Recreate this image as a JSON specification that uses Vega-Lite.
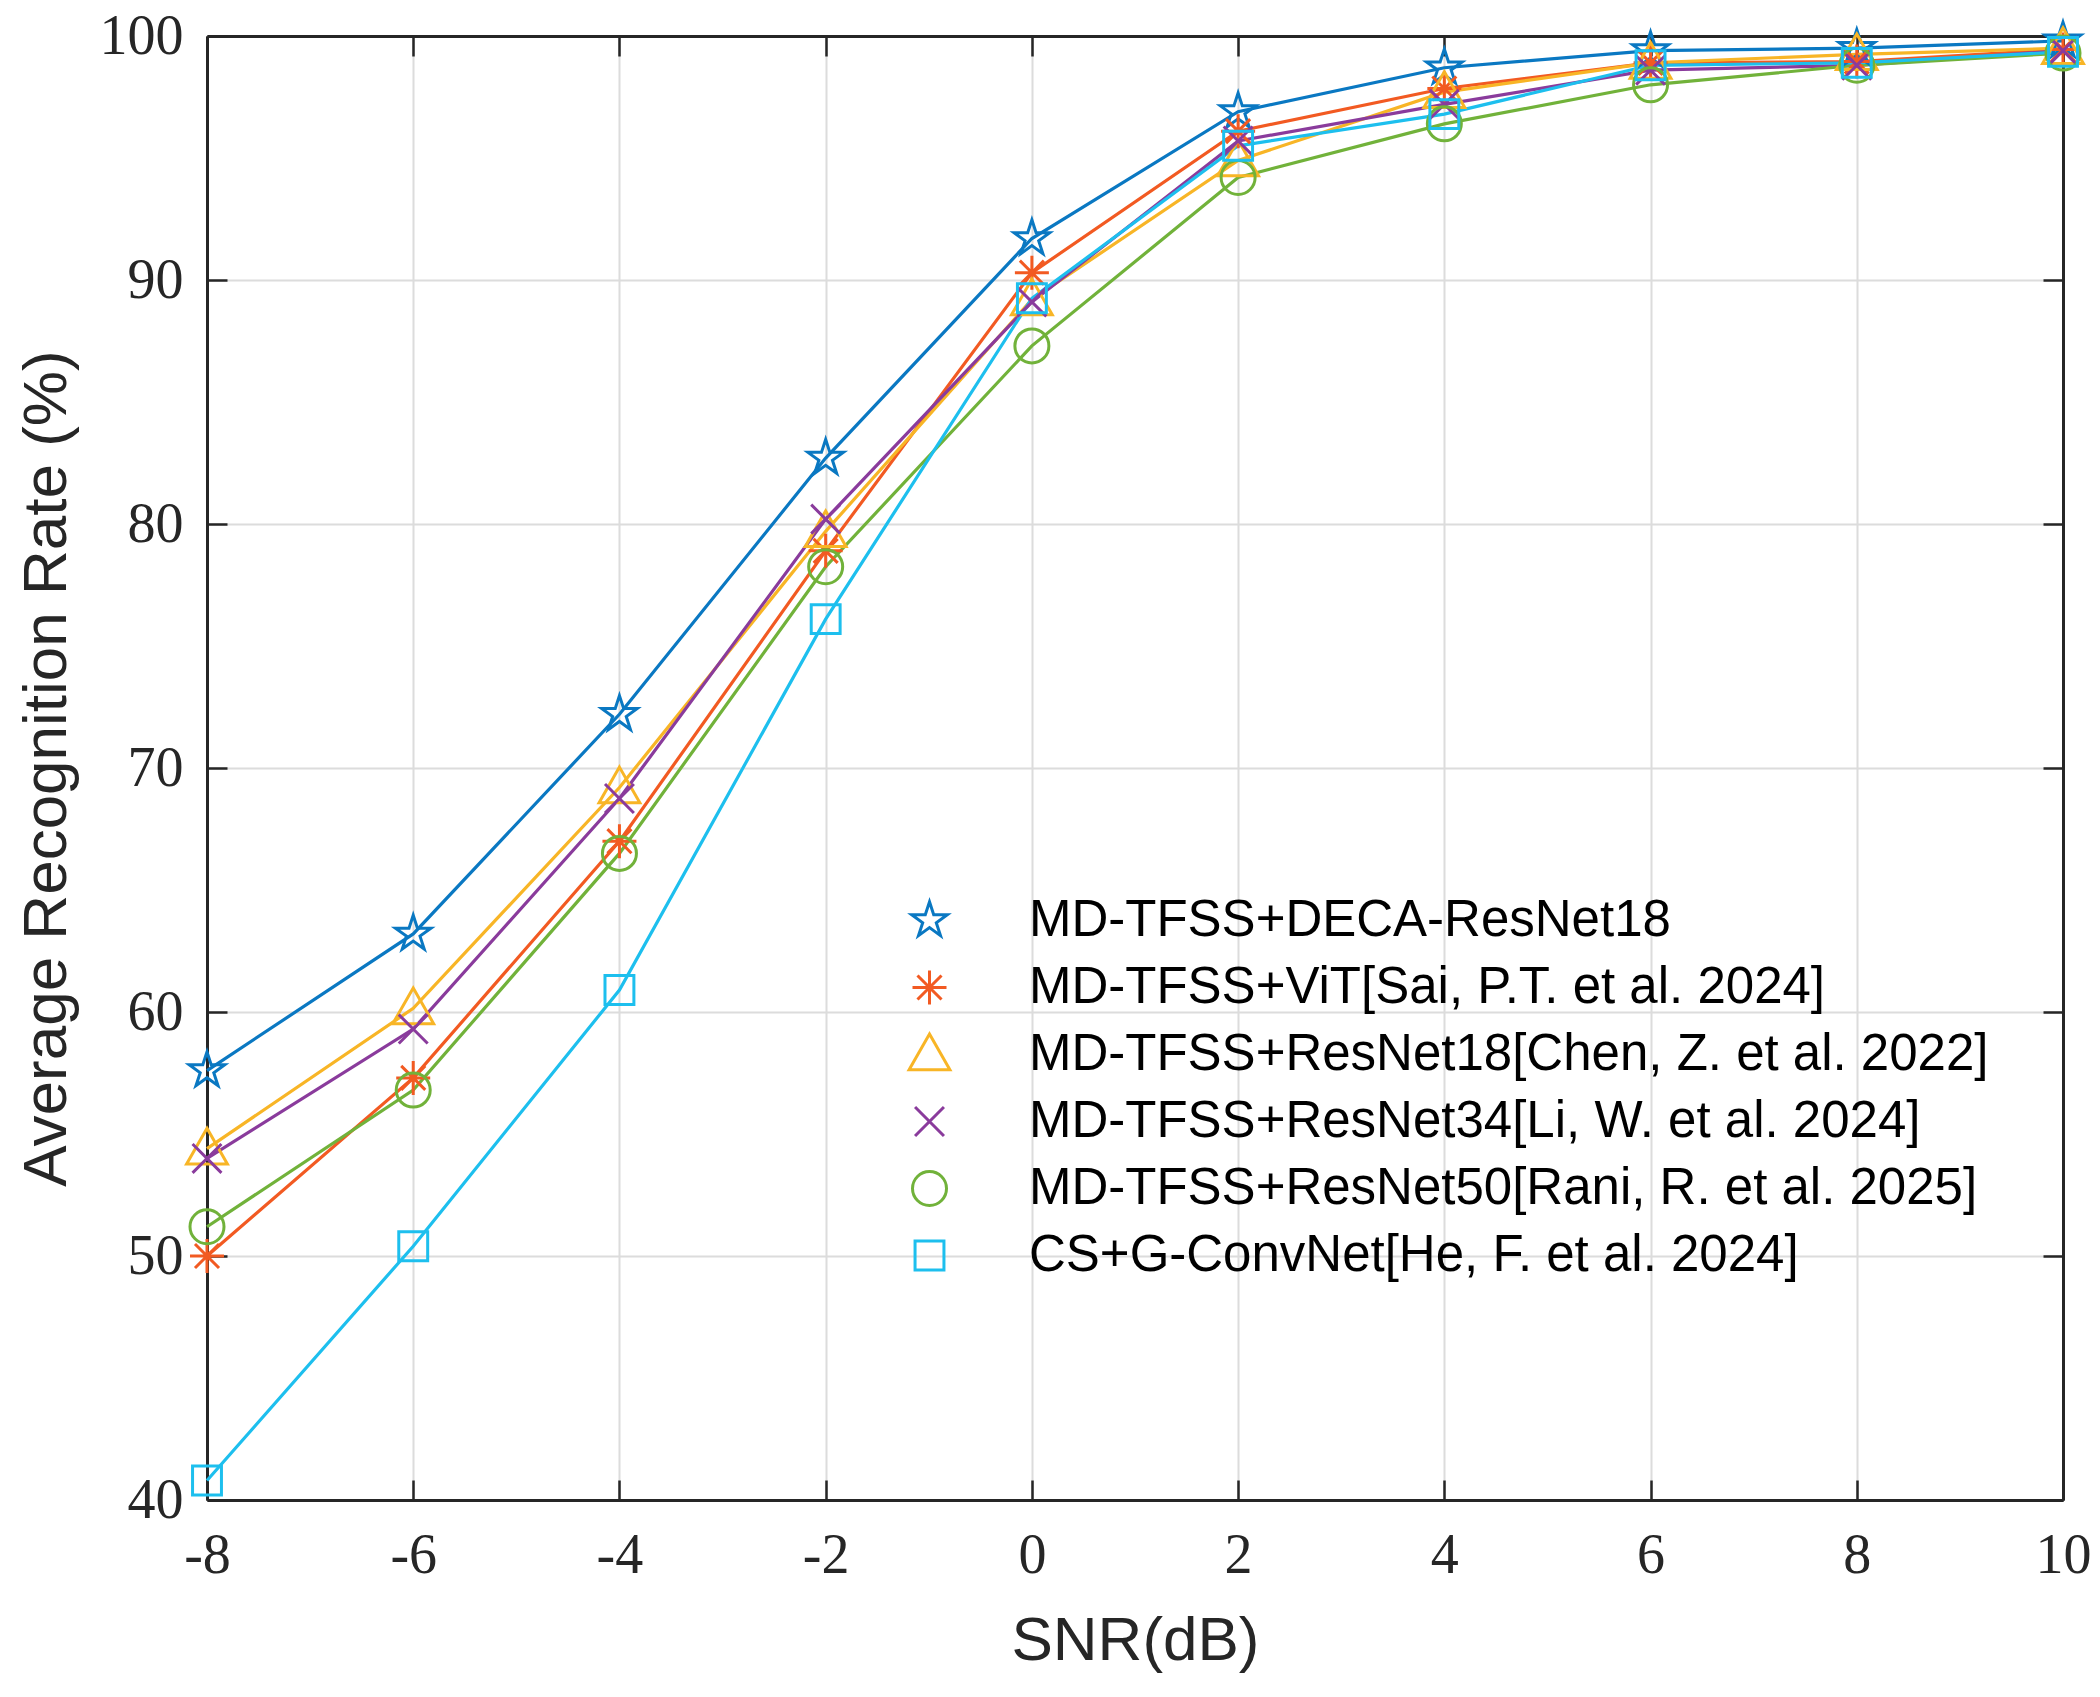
{
  "$schema": "https://vega.github.io/schema/vega-lite/v6.json",
  "width": 1856,
  "height": 1464,
  "autosize": {"type": "none"},
  "padding": {"left": 207, "top": 36, "right": 37, "bottom": 197},
  "background": "white",
  "data": {
    "values": [
      {"snr": -8, "rate": 57.6, "method": "MD-TFSS+DECA-ResNet18"},
      {"snr": -6, "rate": 63.2, "method": "MD-TFSS+DECA-ResNet18"},
      {"snr": -4, "rate": 72.2, "method": "MD-TFSS+DECA-ResNet18"},
      {"snr": -2, "rate": 82.7, "method": "MD-TFSS+DECA-ResNet18"},
      {"snr": 0, "rate": 91.7, "method": "MD-TFSS+DECA-ResNet18"},
      {"snr": 2, "rate": 96.9, "method": "MD-TFSS+DECA-ResNet18"},
      {"snr": 4, "rate": 98.7, "method": "MD-TFSS+DECA-ResNet18"},
      {"snr": 6, "rate": 99.4, "method": "MD-TFSS+DECA-ResNet18"},
      {"snr": 8, "rate": 99.5, "method": "MD-TFSS+DECA-ResNet18"},
      {"snr": 10, "rate": 99.8, "method": "MD-TFSS+DECA-ResNet18"},
      {"snr": -8, "rate": 50.0, "method": "MD-TFSS+ViT[Sai, P.T. et al. 2024]"},
      {"snr": -6, "rate": 57.3, "method": "MD-TFSS+ViT[Sai, P.T. et al. 2024]"},
      {"snr": -4, "rate": 67.0, "method": "MD-TFSS+ViT[Sai, P.T. et al. 2024]"},
      {"snr": -2, "rate": 78.9, "method": "MD-TFSS+ViT[Sai, P.T. et al. 2024]"},
      {"snr": 0, "rate": 90.3, "method": "MD-TFSS+ViT[Sai, P.T. et al. 2024]"},
      {"snr": 2, "rate": 96.1, "method": "MD-TFSS+ViT[Sai, P.T. et al. 2024]"},
      {"snr": 4, "rate": 97.85, "method": "MD-TFSS+ViT[Sai, P.T. et al. 2024]"},
      {"snr": 6, "rate": 98.9, "method": "MD-TFSS+ViT[Sai, P.T. et al. 2024]"},
      {"snr": 8, "rate": 98.95, "method": "MD-TFSS+ViT[Sai, P.T. et al. 2024]"},
      {"snr": 10, "rate": 99.45, "method": "MD-TFSS+ViT[Sai, P.T. et al. 2024]"},
      {"snr": -8, "rate": 54.4, "method": "MD-TFSS+ResNet18[Chen, Z. et al. 2022]"},
      {"snr": -6, "rate": 60.15, "method": "MD-TFSS+ResNet18[Chen, Z. et al. 2022]"},
      {"snr": -4, "rate": 69.2, "method": "MD-TFSS+ResNet18[Chen, Z. et al. 2022]"},
      {"snr": -2, "rate": 79.7, "method": "MD-TFSS+ResNet18[Chen, Z. et al. 2022]"},
      {"snr": 0, "rate": 89.2, "method": "MD-TFSS+ResNet18[Chen, Z. et al. 2022]"},
      {"snr": 2, "rate": 94.9, "method": "MD-TFSS+ResNet18[Chen, Z. et al. 2022]"},
      {"snr": 4, "rate": 97.7, "method": "MD-TFSS+ResNet18[Chen, Z. et al. 2022]"},
      {"snr": 6, "rate": 98.9, "method": "MD-TFSS+ResNet18[Chen, Z. et al. 2022]"},
      {"snr": 8, "rate": 99.25, "method": "MD-TFSS+ResNet18[Chen, Z. et al. 2022]"},
      {"snr": 10, "rate": 99.5, "method": "MD-TFSS+ResNet18[Chen, Z. et al. 2022]"},
      {"snr": -8, "rate": 54.0, "method": "MD-TFSS+ResNet34[Li, W. et al. 2024]"},
      {"snr": -6, "rate": 59.3, "method": "MD-TFSS+ResNet34[Li, W. et al. 2024]"},
      {"snr": -4, "rate": 68.75, "method": "MD-TFSS+ResNet34[Li, W. et al. 2024]"},
      {"snr": -2, "rate": 80.2, "method": "MD-TFSS+ResNet34[Li, W. et al. 2024]"},
      {"snr": 0, "rate": 89.1, "method": "MD-TFSS+ResNet34[Li, W. et al. 2024]"},
      {"snr": 2, "rate": 95.7, "method": "MD-TFSS+ResNet34[Li, W. et al. 2024]"},
      {"snr": 4, "rate": 97.2, "method": "MD-TFSS+ResNet34[Li, W. et al. 2024]"},
      {"snr": 6, "rate": 98.6, "method": "MD-TFSS+ResNet34[Li, W. et al. 2024]"},
      {"snr": 8, "rate": 98.8, "method": "MD-TFSS+ResNet34[Li, W. et al. 2024]"},
      {"snr": 10, "rate": 99.4, "method": "MD-TFSS+ResNet34[Li, W. et al. 2024]"},
      {"snr": -8, "rate": 51.2, "method": "MD-TFSS+ResNet50[Rani, R. et al. 2025]"},
      {"snr": -6, "rate": 56.8, "method": "MD-TFSS+ResNet50[Rani, R. et al. 2025]"},
      {"snr": -4, "rate": 66.5, "method": "MD-TFSS+ResNet50[Rani, R. et al. 2025]"},
      {"snr": -2, "rate": 78.25, "method": "MD-TFSS+ResNet50[Rani, R. et al. 2025]"},
      {"snr": 0, "rate": 87.3, "method": "MD-TFSS+ResNet50[Rani, R. et al. 2025]"},
      {"snr": 2, "rate": 94.2, "method": "MD-TFSS+ResNet50[Rani, R. et al. 2025]"},
      {"snr": 4, "rate": 96.4, "method": "MD-TFSS+ResNet50[Rani, R. et al. 2025]"},
      {"snr": 6, "rate": 98.0, "method": "MD-TFSS+ResNet50[Rani, R. et al. 2025]"},
      {"snr": 8, "rate": 98.8, "method": "MD-TFSS+ResNet50[Rani, R. et al. 2025]"},
      {"snr": 10, "rate": 99.3, "method": "MD-TFSS+ResNet50[Rani, R. et al. 2025]"},
      {"snr": -8, "rate": 40.8, "method": "CS+G-ConvNet[He, F. et al. 2024]"},
      {"snr": -6, "rate": 50.4, "method": "CS+G-ConvNet[He, F. et al. 2024]"},
      {"snr": -4, "rate": 60.9, "method": "CS+G-ConvNet[He, F. et al. 2024]"},
      {"snr": -2, "rate": 76.1, "method": "CS+G-ConvNet[He, F. et al. 2024]"},
      {"snr": 0, "rate": 89.25, "method": "CS+G-ConvNet[He, F. et al. 2024]"},
      {"snr": 2, "rate": 95.5, "method": "CS+G-ConvNet[He, F. et al. 2024]"},
      {"snr": 4, "rate": 96.8, "method": "CS+G-ConvNet[He, F. et al. 2024]"},
      {"snr": 6, "rate": 98.8, "method": "CS+G-ConvNet[He, F. et al. 2024]"},
      {"snr": 8, "rate": 98.9, "method": "CS+G-ConvNet[He, F. et al. 2024]"},
      {"snr": 10, "rate": 99.35, "method": "CS+G-ConvNet[He, F. et al. 2024]"}
    ]
  },
  "resolve": {"axis": {"x": "independent", "y": "independent"}},
  "layer": [
    {
      "mark": {"type": "line", "strokeWidth": 3.2},
      "encoding": {
        "x": {
          "field": "snr",
          "type": "quantitative",
          "title": "SNR(dB)",
          "scale": {"domain": [-8, 10], "nice": false, "zero": false},
          "axis": {
            "orient": "bottom",
            "values": [-8, -6, -4, -2, 0, 2, 4, 6, 8, 10],
            "labelExpr": "'' + datum.value",
            "labelFlush": false,
            "tickSize": -20,
            "labelPadding": 48,
            "titlePadding": 27,
            "grid": true
          }
        },
        "y": {
          "field": "rate",
          "type": "quantitative",
          "title": "Average Recognition Rate (%)",
          "scale": {"domain": [40, 100], "nice": false, "zero": false},
          "axis": {
            "orient": "left",
            "values": [40, 50, 60, 70, 80, 90, 100],
            "labelFlush": false,
            "tickSize": -20,
            "labelPadding": 44,
            "titlePadding": 21,
            "grid": true
          }
        },
        "color": {"field": "method", "type": "nominal"},
        "detail": {"field": "method"}
      }
    },
    {
      "mark": {"type": "point", "filled": false, "size": 1156, "strokeWidth": 3, "opacity": 1},
      "encoding": {
        "x": {
          "field": "snr",
          "type": "quantitative",
          "axis": {
            "orient": "top",
            "values": [-8, -6, -4, -2, 0, 2, 4, 6, 8, 10],
            "labels": false,
            "title": null,
            "tickSize": -20,
            "grid": false
          }
        },
        "y": {
          "field": "rate",
          "type": "quantitative",
          "axis": {
            "orient": "right",
            "values": [40, 50, 60, 70, 80, 90, 100],
            "labels": false,
            "title": null,
            "tickSize": -20,
            "grid": false
          }
        },
        "color": {
          "field": "method",
          "type": "nominal",
          "scale": {
            "domain": [
              "MD-TFSS+DECA-ResNet18",
              "MD-TFSS+ViT[Sai, P.T. et al. 2024]",
              "MD-TFSS+ResNet18[Chen, Z. et al. 2022]",
              "MD-TFSS+ResNet34[Li, W. et al. 2024]",
              "MD-TFSS+ResNet50[Rani, R. et al. 2025]",
              "CS+G-ConvNet[He, F. et al. 2024]"
            ],
            "range": ["#0A78C2", "#F25A22", "#F8B526", "#8A3B9C", "#71B23A", "#1DBFEE"]
          },
          "legend": {
            "title": null,
            "orient": "none",
            "legendX": 636,
            "legendY": 859,
            "padding": 0,
            "rowPadding": 15,
            "symbolOffset": 61,
            "labelOffset": 74,
            "labelFont": "Liberation Sans",
            "labelFontSize": 51,
            "labelColor": "#000000",
            "labelLimit": 1200,
            "symbolSize": 1156,
            "symbolStrokeWidth": 3
          }
        },
        "shape": {
          "field": "method",
          "type": "nominal",
          "scale": {
            "domain": [
              "MD-TFSS+DECA-ResNet18",
              "MD-TFSS+ViT[Sai, P.T. et al. 2024]",
              "MD-TFSS+ResNet18[Chen, Z. et al. 2022]",
              "MD-TFSS+ResNet34[Li, W. et al. 2024]",
              "MD-TFSS+ResNet50[Rani, R. et al. 2025]",
              "CS+G-ConvNet[He, F. et al. 2024]"
            ],
            "range": [
              "M0,-1.1L0.247,-0.34L1.046,-0.34L0.399,0.13L0.647,0.89L0,0.42L-0.647,0.89L-0.399,0.13L-1.046,-0.34L-0.247,-0.34Z",
              "M0,-1V1M-1,0H1M-0.707,-0.707L0.707,0.707M-0.707,0.707L0.707,-0.707",
              "M0,-1.2L1.2,0.9L-1.2,0.9Z",
              "M-0.85,-0.85L0.85,0.85M-0.85,0.85L0.85,-0.85",
              "M1,0A1,1 0 1,1 -1,0A1,1 0 1,1 1,0Z",
              "M-0.85,-0.85H0.85V0.85H-0.85Z"
            ]
          }
        }
      }
    }
  ],
  "config": {
    "view": {"stroke": null},
    "axis": {
      "domainColor": "#262626",
      "domainWidth": 3,
      "tickColor": "#262626",
      "tickWidth": 2.5,
      "gridColor": "#DCDCDC",
      "gridWidth": 2,
      "labelFont": "Liberation Serif",
      "labelFontSize": 56,
      "labelColor": "#262626",
      "titleFont": "Liberation Sans",
      "titleFontSize": 62,
      "titleFontWeight": "normal",
      "titleColor": "#262626"
    }
  }
}
